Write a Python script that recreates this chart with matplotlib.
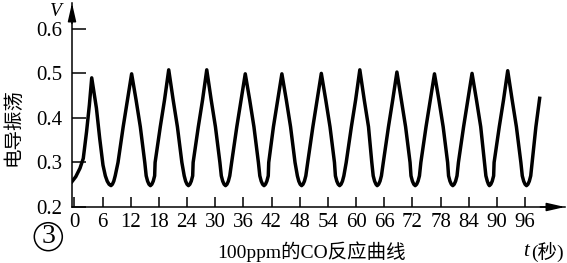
import matplotlib
matplotlib.use("Agg")
import matplotlib.pyplot as plt
from matplotlib.patches import Circle

serif = ["Liberation Serif", "Noto Sans CJK SC", "DejaVu Sans"]

t_sec = [-0.5, 0.3, 1.2, 1.9, 2.6, 3.2, 3.7,
         4.7, 5.4, 6.1, 6.6, 7.0, 7.4, 7.8,
         8.1, 8.4, 8.7, 9.3, 10.4, 11.3, 12.2,
         13.15, 14.05, 15.0, 15.3, 15.6, 15.9, 16.2,
         16.5, 16.8, 17.1, 17.2, 18.3, 19.2, 20.1,
         21.05, 21.95, 22.9, 23.4, 23.7, 24.0, 24.3,
         24.6, 24.9, 25.2, 25.3, 26.4, 27.3, 28.2,
         29.15, 30.05, 31.0, 31.3, 31.6, 31.9, 32.2,
         32.5, 32.8, 33.1, 33.5, 34.6, 35.5, 36.4,
         37.35, 38.25, 39.2, 39.5, 39.8, 40.1, 40.4,
         40.7, 41.0, 41.3, 41.4, 42.4, 43.3, 44.2,
         45.15, 46.05, 47.0, 47.5, 47.8, 48.1, 48.4,
         48.7, 49.0, 49.3, 49.7, 50.8, 51.7, 52.6,
         53.55, 54.45, 55.4, 55.6, 55.9, 56.2, 56.5,
         56.8, 57.1, 57.4, 57.9, 59.0, 59.9, 60.8,
         61.75, 62.65, 63.35, 63.65, 63.95, 64.25, 64.5,
         64.8, 65.1, 65.4, 65.8, 66.9, 67.8, 68.7,
         69.65, 70.55, 71.5, 71.7, 72.0, 72.3, 72.6,
         72.9, 73.2, 73.5, 73.8, 74.9, 75.8, 76.7,
         77.65, 78.55, 79.5, 79.7, 80.0, 80.3, 80.6,
         80.9, 81.2, 81.5, 81.8, 82.9, 83.8, 84.7,
         85.65, 86.55, 87.35, 87.65, 87.95, 88.2, 88.4,
         88.7, 89.0, 89.3, 89.4, 90.5, 91.4, 92.3,
         93.25, 94.15, 95.1, 95.4, 95.7, 96.0, 96.3,
         96.6, 96.9, 97.2, 97.5, 98.3, 99.1]
cond = [0.257, 0.268, 0.287, 0.309, 0.369, 0.429, 0.490,
        0.422, 0.354, 0.294, 0.270, 0.258, 0.251, 0.248,
        0.251, 0.258, 0.270, 0.300, 0.380, 0.440, 0.499,
        0.440, 0.380, 0.300, 0.270, 0.258, 0.251, 0.248,
        0.251, 0.258, 0.270, 0.300, 0.380, 0.440, 0.508,
        0.440, 0.380, 0.300, 0.270, 0.258, 0.251, 0.248,
        0.251, 0.258, 0.270, 0.300, 0.380, 0.440, 0.508,
        0.440, 0.380, 0.300, 0.270, 0.258, 0.251, 0.248,
        0.251, 0.258, 0.270, 0.300, 0.380, 0.440, 0.499,
        0.440, 0.380, 0.300, 0.270, 0.258, 0.251, 0.248,
        0.251, 0.258, 0.270, 0.300, 0.380, 0.440, 0.499,
        0.440, 0.380, 0.300, 0.270, 0.258, 0.251, 0.248,
        0.251, 0.258, 0.270, 0.300, 0.380, 0.440, 0.500,
        0.440, 0.380, 0.300, 0.270, 0.258, 0.251, 0.248,
        0.251, 0.258, 0.270, 0.300, 0.380, 0.440, 0.508,
        0.440, 0.380, 0.300, 0.270, 0.258, 0.251, 0.248,
        0.251, 0.258, 0.270, 0.300, 0.380, 0.440, 0.503,
        0.440, 0.380, 0.300, 0.270, 0.258, 0.251, 0.248,
        0.251, 0.258, 0.270, 0.300, 0.380, 0.440, 0.499,
        0.440, 0.380, 0.300, 0.270, 0.258, 0.251, 0.248,
        0.251, 0.258, 0.270, 0.300, 0.380, 0.440, 0.500,
        0.440, 0.380, 0.300, 0.270, 0.258, 0.251, 0.248,
        0.251, 0.258, 0.270, 0.300, 0.380, 0.440, 0.506,
        0.440, 0.380, 0.300, 0.270, 0.258, 0.251, 0.248,
        0.251, 0.258, 0.270, 0.300, 0.380, 0.444]

x_ticks = list(range(0, 97, 6))
y_ticks = [0.2, 0.3, 0.4, 0.5, 0.6]
y_labels = ["0.2", "0.3", "0.4", "0.5", "0.6"]

W, H = 567, 263
fig = plt.figure(figsize=(W / 100, H / 100), dpi=100)
ax = fig.add_axes([72 / W, 56 / H, 493 / W, 204 / H])

ax.plot(t_sec, cond, color="k", lw=2.5, solid_joinstyle="round")

ax.set_xlim(-0.5, 104.5)
ax.set_ylim(0.2, 0.658)
ax.set_xticks(x_ticks)
ax.set_xticklabels([str(v) for v in x_ticks], family=serif, fontsize=15)
ax.set_yticks(y_ticks)
ax.set_yticklabels(y_labels, family=serif, fontsize=15)
ax.tick_params(axis="x", direction="in", length=7, width=1.1, pad=4)
ax.tick_params(axis="y", direction="in", length=10, width=1.1, pad=7)

for side in ["top", "right"]:
    ax.spines[side].set_visible(False)
for side in ["left", "bottom"]:
    ax.spines[side].set_linewidth(1.1)

# arrow heads on both axes
arrow = dict(arrowstyle="-|>,head_length=1.1,head_width=0.25", color="k",
             lw=1.1, shrinkA=0, shrinkB=0)
ax.annotate("", xy=(1, 0), xytext=(0.95, 0), xycoords="axes fraction",
            arrowprops=arrow, annotation_clip=False)
ax.annotate("", xy=(0, 1), xytext=(0, 0.9), xycoords="axes fraction",
            arrowprops=arrow, annotation_clip=False)

fig.text(12.5 / W, 1 - 127.5 / H, "电导振荡", rotation=90, ha="center",
         va="center", family="Noto Sans CJK SC", fontsize=14)
fig.text(56 / W, 1 - 11 / H, "V", ha="center", va="center", style="italic",
         family=serif, fontsize=14)

# circled panel number
fig.add_artist(Circle((0.483, 0.263), 0.14, transform=fig.dpi_scale_trans,
                      fill=False, lw=1.1, color="k"))
fig.text(0.483 * 100 / W, 0.263 * 100 / H, "3", ha="center", va="center",
         family=serif, fontsize=20)

fig.text(312 / W, 1 - 251.5 / H, "100ppm的CO反应曲线", ha="center",
         va="center", family=serif, fontsize=14)
fig.text(529 / W, 1 - 251.5 / H, "t", ha="right", va="center",
         style="italic", family=serif, fontsize=15)
fig.text(564 / W, 1 - 251.5 / H, "(秒)", ha="right", va="center",
         family=serif, fontsize=14)

fig.savefig("out.png", dpi=100)
